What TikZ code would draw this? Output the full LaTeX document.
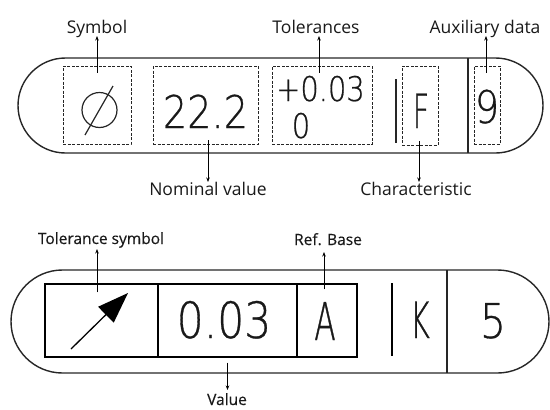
\documentclass[tikz,border=0pt]{standalone}
\usepackage{fontspec}
\setmainfont{Open Sans}
\newfontfamily\isod[FakeStretch=0.85,FakeBold=0.6]{DejaVu Sans ExtraLight}
\newfontfamily\isol[FakeStretch=0.6,FakeBold=0.6]{DejaVu Sans ExtraLight}
\newfontfamily\labb[FakeBold=0.4]{Open Sans}
\usetikzlibrary{arrows.meta}
\begin{document}
\begin{tikzpicture}[x=1pt,y=-1pt,
  outline/.style={line width=1.4pt,draw=black!85},
  dbox/.style={draw=black!85,line width=0.9pt,dash pattern=on 3pt off 1.5pt,inner sep=0pt},
  sbox/.style={draw=black,line width=1.2pt,inner sep=0pt},
  lbl/.style={font=\fontsize{17.5}{20}\selectfont,text=black!90,inner sep=0pt,anchor=base},
  lblb/.style={font=\labb\fontsize{15.5}{18}\selectfont,text=black!90,inner sep=0pt,anchor=base},
  pointer/.style={line width=0.7pt,-{Stealth[length=4.5pt,width=3.5pt]}},
  dig/.style={inner sep=0pt,anchor=base,text=black!90}]
\path[use as bounding box] (0,0) rectangle (550,410);

% ---------- top frame ----------
\draw[outline,rounded corners=47.5pt] (18,58) rectangle (543,153);
\draw[outline] (468,58) -- (468,153);

\node[dbox,minimum width=68pt,minimum height=78pt] (symb) at (97,105) {};
\node[dbox,minimum width=105pt,minimum height=78pt] (nom) at (205.5,105) {};
\node[dbox,minimum width=100pt,minimum height=78pt] (tol) at (322,105) {};
\node[dbox,minimum width=36pt,minimum height=79pt] (chr) at (420,105.5) {};
\node[dbox,minimum width=26pt,minimum height=78pt] (aux) at (487,105) {};
\draw[line width=1.2pt,black!85] (396,79) -- (396,143);

% diameter symbol
\draw[line width=1.2pt,black!85] (99.5,110) circle (17.5pt);
\draw[line width=1.2pt,black!85] (85,135) -- (113,86);

\node[dig,font=\isod\fontsize{45}{50}\selectfont] (nomv) at (205.5,128) {22.2};
\node[dig,font=\isod\fontsize{34}{38}\selectfont] (tolu) at (320.5,101) {+0.03};
\node[dig,font=\isod\fontsize{34}{38}\selectfont] (toll) at (301,138) {0};
\node[dig,font=\isol\fontsize{47}{50}\selectfont] (chrv) at (421,128) {F};
\node[dig,font=\isod\fontsize{45}{50}\selectfont] (auxv) at (487,123) {9};

\node[lbl] (lsym) at (97,33) {Symbol};
\node[lbl] (lnom) at (208,195) {Nominal value};
\node[lbl] (ltol) at (316,33) {Tolerances};
\node[lbl] (laux) at (485,33) {Auxiliary data};
\node[lbl] (lchr) at (416,195) {Characteristic};

\draw[pointer] ([yshift=-7pt]symb.north) -- ([yshift=-3pt]symb.north |- lsym.base);
\draw[pointer] ([xshift=2.5pt,yshift=4pt]nom.south) -- ([xshift=2.5pt,yshift=13pt]nom.south |- lnom.base);
\draw[pointer] ([xshift=-3pt,yshift=-7pt]tol.north) -- ([xshift=-3pt,yshift=-3pt]tol.north |- ltol.base);
\draw[pointer] ([xshift=-1pt,yshift=-7pt]aux.north) -- ([xshift=-1pt,yshift=-3pt]aux.north |- laux.base);
\draw[pointer] ([xshift=-1pt,yshift=4pt]chr.south) -- ([xshift=-1pt,yshift=13pt]chr.south |- lchr.base);

% ---------- bottom frame ----------
\draw[outline,rounded corners=51.5pt] (11,270) rectangle (549,373);
\draw[outline] (447,270) -- (447,373);

\node[sbox,minimum width=113pt,minimum height=73pt] (tsym) at (101.5,320.5) {};
\node[sbox,minimum width=139pt,minimum height=73pt] (val) at (227.5,320.5) {};
\node[sbox,minimum width=60pt,minimum height=73pt] (ref) at (327,320.5) {};
\draw[line width=1.2pt,black] (392,283) -- (392,356);

\coordinate (atail) at (71,349);
\coordinate (ahead) at (128,293);
\draw[line width=1.3pt,black,-{Triangle[length=31pt,width=22pt]}] (atail) -- (ahead);

\node[dig,font=\isod\fontsize{50}{54}\selectfont] (valv) at (224,338) {0.03};
\node[dig,font=\isol\fontsize{52}{56}\selectfont] (refv) at (325,340) {A};
\node[dig,font=\isol\fontsize{50}{54}\selectfont] (kv) at (420,338) {K};
\node[dig,font=\isod\fontsize{48}{54}\selectfont] (fv) at (493,338) {5};

\node[lblb] (ltsym) at (101,244) {Tolerance symbol};
\node[lblb] (lref) at (328,245) {Ref. Base};
\node[lblb] (lval) at (227,405) {Value};

\draw[pointer] ([xshift=-4.5pt,yshift=-9pt]tsym.north) -- ([xshift=-4.5pt,yshift=-5pt]tsym.north |- ltsym.base);
\draw[pointer] ([xshift=-3pt,yshift=-6pt]ref.north) -- ([xshift=-3pt,yshift=-7pt]ref.north |- lref.base);
\draw[pointer] ([yshift=-5pt]val.south) -- ([yshift=15pt]val.south |- lval.base);
\end{tikzpicture}
\end{document}
